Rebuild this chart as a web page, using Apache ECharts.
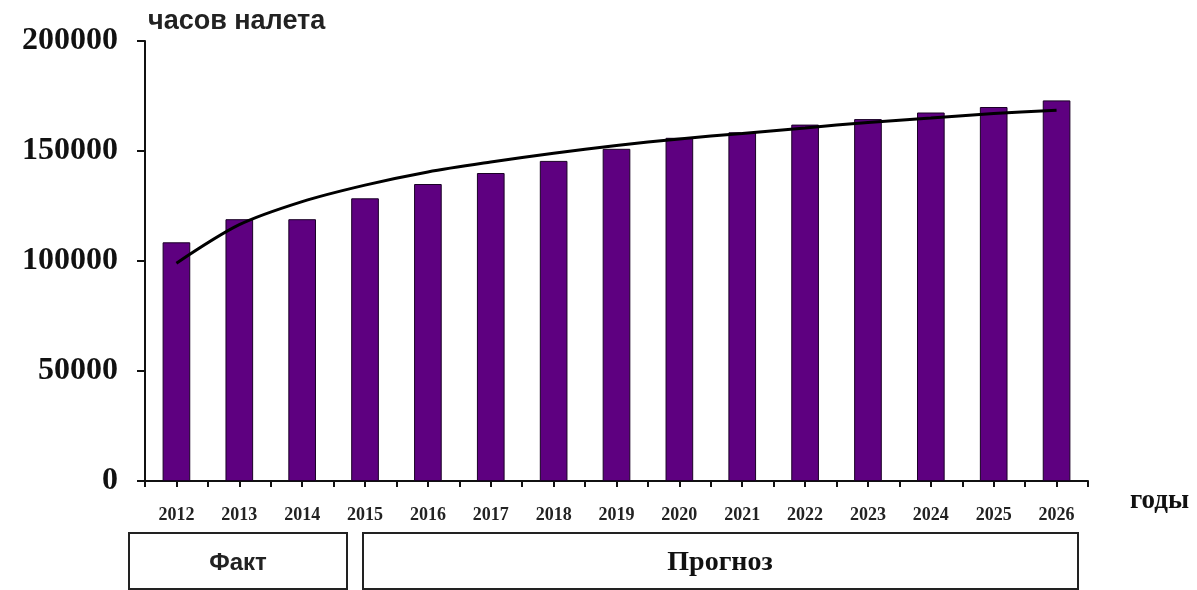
<!DOCTYPE html>
<html>
<head>
<meta charset="utf-8">
<script src="https://cdn.jsdelivr.net/npm/echarts@6/dist/echarts.min.js"></script>
<style>
  html, body { margin: 0; padding: 0; background: #fff; }
  #chart { width: 1197px; height: 590px; }
</style>
</head>
<body>
<div id="chart"></div>
<script>
// годы
var years = ['2012', '2013', '2014', '2015', '2016', '2017', '2018', '2019',
             '2020', '2021', '2022', '2023', '2024', '2025', '2026'];
// часы налета (столбцы)
var hours = [108500, 119000, 119000, 128500, 135000, 140000, 145500, 151000,
             156000, 158500, 162000, 164500, 167500, 170000, 173000];
// линия тренда
var trend = [99000, 116500, 127000, 134500, 140500, 145000, 149000, 152500,
             155500, 158000, 160500, 163000, 165000, 167000, 168500];
var yTicks = [0, 50000, 100000, 150000, 200000];

var chart = echarts.init(document.getElementById('chart'));

var option = {
    backgroundColor: '#fff',
    animation: false,
    grid: {
        left: 145,
        right: 109,
        top: 41,
        bottom: 109
    },
    xAxis: [
        {
            type: 'category',
            data: years,
            name: 'годы',
            nameLocation: 'end',
            nameGap: 42,
            nameTextStyle: {
                fontFamily: 'Liberation Serif',
                fontWeight: 'bold',
                fontSize: 27,
                color: '#111',
                verticalAlign: 'top',
                padding: [7, 0, 0, 0]
            },
            axisLine: { lineStyle: { color: '#111', width: 2 } },
            axisTick: { show: true, interval: 0, length: 6, lineStyle: { color: '#111', width: 2 } },
            axisLabel: {
                interval: 0,
                margin: 25,
                fontFamily: 'Liberation Serif',
                fontWeight: 'bold',
                fontSize: 18,
                color: '#222'
            }
        },
        {
            // second set of ticks under the bar centres
            type: 'category',
            data: years,
            position: 'bottom',
            axisLine: { show: false },
            axisLabel: { show: false },
            axisTick: { show: true, alignWithLabel: true, interval: 0, length: 6, lineStyle: { color: '#111', width: 2 } }
        }
    ],
    yAxis: {
        type: 'value',
        min: yTicks[0],
        max: yTicks[yTicks.length - 1],
        interval: 50000,
        name: 'часов налета',
        nameLocation: 'end',
        nameGap: 6,
        nameTextStyle: {
            fontFamily: 'Liberation Sans',
            fontWeight: 'bold',
            fontSize: 27,
            color: '#222',
            align: 'left',
            padding: [0, 0, 0, 3]
        },
        splitLine: { show: false },
        axisLine: { show: true, lineStyle: { color: '#111', width: 2 } },
        axisTick: { show: true, length: 8, lineStyle: { color: '#111', width: 2 } },
        axisLabel: {
            margin: 27,
            fontFamily: 'Liberation Serif',
            fontWeight: 'bold',
            fontSize: 32,
            color: '#111',
            formatter: function (v) { return String(v); }
        }
    },
    series: [
        {
            name: 'часов налета',
            type: 'bar',
            data: hours,
            barWidth: '44%',
            itemStyle: {
                color: '#5e0080',
                borderColor: '#1a0026',
                borderWidth: 1
            }
        },
        {
            name: 'тренд',
            type: 'line',
            data: trend,
            smooth: 0.3,
            symbol: 'none',
            lineStyle: { color: '#000', width: 3 }
        }
    ],
    graphic: [
        {
            type: 'rect',
            shape: { x: 129, y: 533, width: 218, height: 56 },
            style: { fill: '#fff', stroke: '#222', lineWidth: 2 }
        },
        {
            type: 'text',
            x: 238,
            y: 563,
            style: {
                text: 'Факт',
                fontFamily: 'Liberation Sans',
                fontWeight: 'bold',
                fontSize: 24,
                fill: '#222',
                align: 'center',
                verticalAlign: 'middle'
            }
        },
        {
            type: 'rect',
            shape: { x: 363, y: 533, width: 715, height: 56 },
            style: { fill: '#fff', stroke: '#222', lineWidth: 2 }
        },
        {
            type: 'text',
            x: 720,
            y: 563,
            style: {
                text: 'Прогноз',
                fontFamily: 'Liberation Serif',
                fontWeight: 'bold',
                fontSize: 28,
                fill: '#111',
                align: 'center',
                verticalAlign: 'middle'
            }
        }
    ]
};

chart.setOption(option);
</script>
</body>
</html>
